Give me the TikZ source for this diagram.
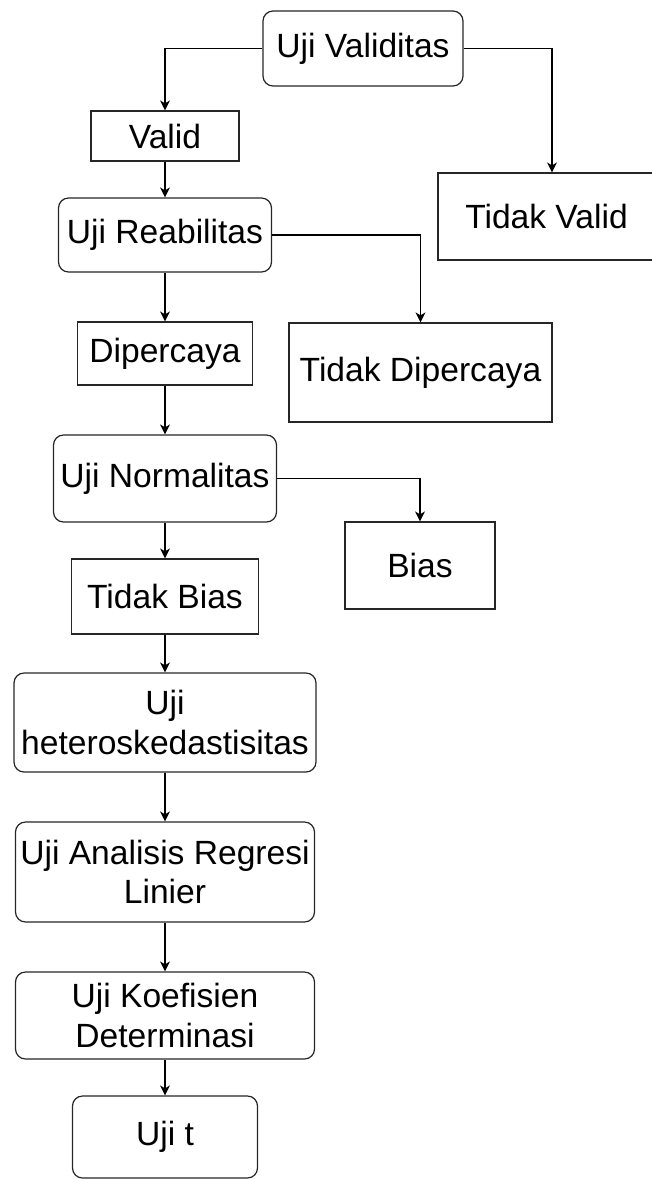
\documentclass[tikz,border=0pt]{standalone}
\usepackage{fontspec}
\setmainfont{Liberation Sans}
\usetikzlibrary{arrows.meta}

\begin{document}
\begin{tikzpicture}[x=0.5pt,y=-0.5pt,
            box/.style={draw=black!85, line width=0.6pt, inner sep=0pt, align=center,
                font=\fontsize{16.8}{19.8}\selectfont},
            roundbox/.style={box, rounded corners=5pt},
            arrow/.style={-{Stealth[length=5pt,width=5pt,inset=1.5pt]}, line width=0.6pt}]
        \useasboundingbox (0,0) rectangle (652,1180);

        % main column
        \node[roundbox, minimum width=100pt, minimum height=37.5pt] (uv) at (363,48.5) {Uji Validitas};
        \node[box, minimum width=74pt, minimum height=25pt] (valid) at (165,136) {Valid};
        \node[roundbox, minimum width=106.5pt, minimum height=37pt] (rb) at (165,235) {Uji Reabilitas};
        \node[box, minimum width=87.5pt, minimum height=31.5pt] (dp) at (165,353.5) {Dipercaya};
        \node[roundbox, minimum width=111.5pt, minimum height=43.5pt] (nm) at (165,478.5) {Uji Normalitas};
        \node[box, minimum width=93.5pt, minimum height=37.5pt] (tb) at (165,596.5) {Tidak Bias};
        \node[roundbox, minimum width=151pt, minimum height=49.5pt] (ht) at (165,722.5) {Uji\\heteroskedastisitas};
        \node[roundbox, minimum width=149.5pt, minimum height=50pt] (ar) at (165,872) {Uji Analisis Regresi\\Linier};
        \node[roundbox, minimum width=149.5pt, minimum height=43.5pt] (kd) at (165,1015.5) {Uji Koefisien\\Determinasi};
        \node[roundbox, minimum width=92.5pt, minimum height=41pt] (ut) at (165,1137) {Uji t};

        % side branches
        \node[box, minimum width=108.5pt, minimum height=43.5pt] (tv) at (546.5,216.5) {Tidak Valid};
        \node[box, minimum width=131.5pt, minimum height=49.5pt] (tdp) at (420.5,372.5) {Tidak Dipercaya};
        \node[box, minimum width=75pt, minimum height=43.5pt] (bias) at (420,565.5) {Bias};

        \draw[arrow] (uv.west) -| (valid.north);
        \draw[arrow] (uv.east) -| ([xshift=2.75pt]tv.north);
        \draw[arrow] (rb.east) -| (tdp.north);
        \draw[arrow] (nm.east) -| (bias.north);
        \foreach \a/\b in {valid/rb, rb/dp, dp/nm, nm/tb, tb/ht, ht/ar, ar/kd, kd/ut}
            \draw[arrow] (\a.south) -- (\b.north);
\end{tikzpicture}
\end{document}
